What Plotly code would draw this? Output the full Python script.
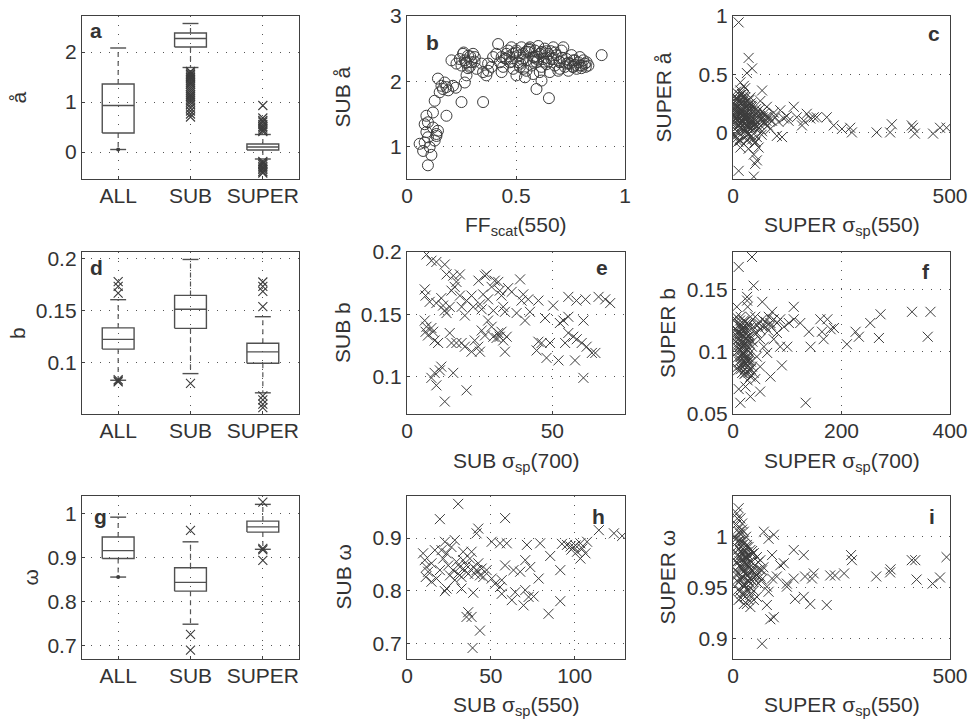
import plotly.graph_objects as go

FONT = "Liberation Sans, Arial, Helvetica, sans-serif"
INK = "#333333"
MARK = "#3c3c3c"
W, H = 971, 722

# ---------------- box-plot statistics ----------------
groups = ["ALL", "SUB", "SUPER"]

a_q1 = [0.38, 2.10, 0.04]
a_med = [0.93, 2.27, 0.10]
a_q3 = [1.36, 2.38, 0.16]
a_lo = [0.05, 1.69, -0.14]
a_hi = [2.08, 2.57, 0.35]
a_out = [[],
         [1.61, 1.58, 1.55, 1.52, 1.49, 1.46, 1.42, 1.38, 1.35, 1.31, 1.27, 1.23,
          1.19, 1.15, 1.12, 1.08, 1.04, 1.00, 0.95, 0.88, 0.82, 0.76, 0.70],
         [0.93, 0.68, 0.63, 0.60, 0.55, 0.51, 0.48, 0.44, 0.41,
          -0.19, -0.22, -0.25, -0.29, -0.32, -0.35, -0.39, -0.42]]
a_dot = [[0.05], [], []]

d_q1 = [0.113, 0.133, 0.0993]
d_med = [0.1224, 0.1513, 0.1103]
d_q3 = [0.1334, 0.1647, 0.1186]
d_lo = [0.083, 0.0894, 0.0709]
d_hi = [0.1606, 0.1993, 0.1442]
d_out = [[0.178, 0.1734, 0.167, 0.0835, 0.0825, 0.0815],
         [0.080],
         [0.1776, 0.1734, 0.1686, 0.154, 0.068, 0.064, 0.060, 0.0566]]
d_dot = [[], [], []]

g_q1 = [0.898, 0.824, 0.958]
g_med = [0.916, 0.844, 0.970]
g_q3 = [0.947, 0.877, 0.983]
g_lo = [0.856, 0.749, 0.919]
g_hi = [0.992, 0.936, 1.021]
g_out = [[], [0.962, 0.726, 0.690], [1.026, 0.921, 0.918, 0.894]]
g_dot = [[0.856], [], []]

# ---------------- scatter panels ----------------
b_ff = [0.096, 0.112, 0.074, 0.058, 0.081, 0.096, 0.127, 0.135, 0.142, 0.089, 0.081, 0.096,
        0.089, 0.119, 0.127, 0.181, 0.150, 0.158, 0.142, 0.173, 0.181, 0.211, 0.204, 0.224,
        0.250, 0.349, 0.265, 0.273, 0.227, 0.242, 0.257, 0.265, 0.280, 0.296, 0.303, 0.288,
        0.319, 0.342, 0.349, 0.364, 0.372, 0.387, 0.395, 0.410, 0.418, 0.426, 0.434, 0.441,
        0.456, 0.464, 0.472, 0.479, 0.487, 0.487, 0.502, 0.510, 0.518, 0.525, 0.533, 0.541,
        0.548, 0.556, 0.564, 0.571, 0.579, 0.587, 0.594, 0.594, 0.602, 0.609, 0.617, 0.617,
        0.625, 0.632, 0.640, 0.648, 0.651, 0.655, 0.663, 0.671, 0.678, 0.686, 0.694, 0.701,
        0.709, 0.717, 0.724, 0.732, 0.740, 0.747, 0.755, 0.763, 0.770, 0.778, 0.786, 0.793,
        0.801, 0.809, 0.816, 0.893, 0.311, 0.250, 0.273, 0.518, 0.548, 0.579, 0.671, 0.701,
        0.732, 0.763, 0.793, 0.824, 0.832, 0.609, 0.456, 0.502, 0.533, 0.434, 0.372, 0.104,
        0.119, 0.135, 0.165, 0.189, 0.545, 0.585, 0.615, 0.640, 0.560, 0.600, 0.630, 0.660,
        0.47, 0.50, 0.53, 0.56, 0.59, 0.62, 0.65, 0.68, 0.71, 0.74, 0.77, 0.80, 0.52, 0.58,
        0.64, 0.70, 0.76, 0.82, 0.27, 0.29, 0.31, 0.26, 0.28, 0.45, 0.48]
b_alpha = [0.71, 0.87, 0.93, 1.04, 1.06, 1.14, 1.09, 1.16, 1.24, 1.22, 1.34, 1.37,
           1.47, 1.52, 1.70, 1.47, 1.83, 1.93, 2.04, 1.98, 1.91, 1.93, 2.32, 1.90,
           1.68, 1.68, 1.98, 2.09, 2.27, 2.34, 2.42, 2.32, 2.39, 2.29, 2.42, 2.22,
           2.19, 2.27, 2.14, 2.09, 2.16, 2.22, 2.37, 2.42, 2.57, 2.29, 2.14, 2.22,
           2.34, 2.47, 2.29, 2.52, 2.42, 2.19, 2.09, 2.29, 2.40, 2.52, 2.19, 2.06,
           2.32, 2.45, 2.52, 2.24, 2.37, 2.47, 1.88, 2.29, 2.54, 2.42, 2.22, 2.01,
           2.34, 2.50, 2.26, 2.42, 1.74, 2.14, 2.34, 2.52, 2.24, 2.40, 2.16, 2.29,
           2.47, 2.52, 2.22, 2.34, 2.16, 2.27, 2.40, 2.22, 2.32, 2.19, 2.29, 2.37,
           2.24, 2.32, 2.27, 2.40, 2.37, 2.24, 2.29, 2.22, 2.16, 2.11, 2.34, 2.19,
           2.27, 2.32, 2.24, 2.29, 2.24, 2.14, 2.42, 2.47, 2.42, 2.37, 2.27, 0.99,
           1.29, 1.19, 1.88, 1.86, 2.45, 2.36, 2.44, 2.36, 2.50, 2.33, 2.30, 2.46,
           2.38, 2.44, 2.33, 2.48, 2.38, 2.45, 2.30, 2.44, 2.36, 2.28, 2.25, 2.20, 2.27, 2.30,
           2.46, 2.30, 2.22, 2.22, 2.28, 2.38, 2.30, 2.44, 2.20, 2.35, 2.30]

c_sp = [13, 13, 48, 51, 55, 48, 36, 17, 59, 36, 44, 32, 17, 25, 67, 63, 78, 94, 109, 124,
        140, 147, 159, 163, 170, 178, 186, 193, 216, 232, 251, 270, 274, 331, 362, 366, 412,
        419, 415, 461, 477, 492, 113, 101, 86,
        5, 9, 13, 17, 21, 25, 28, 32, 36, 40, 44, 48, 51, 55, 59, 63, 67, 71, 74, 5, 9, 17, 25,
        32, 44, 51, 5, 13, 17, 23, 28, 32, 38, 46, 54, 61, 69, 77, 82, 90, 97, 105, 117, 128,
        20, 27, 34, 42, 30, 38, 46, 24, 12, 56,
        3, 6, 8, 10, 12, 14, 16, 18, 20, 22, 24, 26, 28, 30, 33, 35, 38, 41, 44, 47, 50, 53,
        57, 60, 64, 68, 72, 76, 80, 85, 4, 7, 11, 15, 19, 23, 27, 31, 35, 39, 43, 47, 52, 58,
        62, 66,
        2, 4, 6, 8, 10, 12, 14, 16, 18, 20, 22, 24, 26, 28, 30, 32, 34, 36, 38, 40, 42, 44,
        3, 5, 7, 9, 11, 13, 15, 17, 19, 21, 23, 25, 27, 29, 31, 33, 35, 37, 39, 41, 43, 45,
        4, 8, 12, 16, 20, 24, 28, 32, 36, 40]
c_alpha = [0.945, -0.33, -0.38, -0.27, -0.24, -0.19, -0.14, -0.13, -0.13, 0.64, 0.55, 0.51,
           0.43, 0.40, 0.36, 0.27, 0.22, 0.17, 0.19, 0.14, 0.22, 0.13, 0.06, 0.10, 0.16, 0.12,
           0.13, 0.13, 0.13, 0.06, 0.03, 0.04, 0.00, 0.00, 0.00, 0.07, 0.06, -0.01, 0.04,
           -0.01, 0.04, 0.04, -0.04, -0.03, 0.03,
           0.27, 0.19, 0.10, 0.04, 0.33, 0.25, 0.16, 0.07, -0.01, 0.30, 0.22, 0.13, 0.04,
           -0.04, 0.19, 0.10, 0.01, 0.16, 0.07, -0.04, 0.01, -0.07, -0.10, -0.07, -0.06,
           -0.09, 0.13, 0.27, 0.36, 0.30, 0.38, 0.27, 0.19, 0.10, 0.16, 0.07, 0.13, 0.10,
           0.14, 0.10, 0.13, 0.09, 0.12, 0.10, 0.20, 0.12, 0.05, 0.23, 0.02, 0.28, 0.08,
           0.31, 0.22, 0.18,
           0.20, 0.12, 0.30, 0.05, 0.22, 0.15, 0.32, 0.08, 0.18, 0.26, 0.02, 0.12, 0.21, 0.06,
           0.15, 0.24, 0.09, 0.03, 0.17, 0.05, 0.11, 0.20, 0.14, 0.04, 0.12, 0.18, 0.09, 0.13,
           0.06, 0.11, -0.02, 0.35, 0.16, -0.06, 0.28, 0.09, 0.13, -0.03, 0.21, 0.12, 0.05,
           0.08, -0.08, 0.03, 0.14, -0.02,
           0.15, 0.05, 0.22, 0.10, 0.28, 0.00, 0.18, 0.12, 0.25, 0.03, 0.14, 0.20, 0.07, 0.30,
           0.11, 0.17, -0.02, 0.23, 0.09, 0.14, 0.04, 0.19, 0.24, 0.09, 0.17, -0.05, 0.13,
           0.26, 0.06, 0.20, 0.11, 0.33, 0.02, 0.16, 0.08, 0.22, 0.13, -0.06, 0.18, 0.07,
           0.12, 0.25, -0.03, 0.10, 0.31, 0.19, -0.08, 0.08, 0.16, 0.27, 0.01, 0.12, 0.05,
           0.18]

e_sp = [6.7, 8.4, 10.1, 13.0, 13.6, 15.9, 18.2, 6.1, 6.4, 7.8, 10.1, 11.8, 12.4, 13.0, 13.6,
        14.7, 15.3, 16.4, 17.0, 18.2, 18.8, 19.9, 20.5, 22.2, 22.8, 24.6, 25.1, 25.7, 26.2,
        26.8, 27.4, 27.9, 29.1, 29.7, 30.2, 31.4, 31.9, 32.5, 33.1, 33.7, 34.8, 36.0, 37.7,
        38.9, 39.4, 40.0, 40.6, 41.7, 42.3, 45.2, 47.5, 50.3, 55.5, 58.3, 61.4, 65.9, 68.2,
        69.9, 45.2, 46.3, 49.2, 48.0, 52.1, 52.6, 53.8, 55.5, 54.4, 55.5, 57.2, 57.8, 58.4,
        60.1, 60.7, 60.7, 61.8, 63.6, 64.8, 44.6,
        6.1, 6.7, 6.4, 7.2, 8.4, 9.0, 9.5, 10.7, 8.4, 9.5, 10.1, 11.3, 11.8, 13.0, 14.7,
        15.3, 15.9, 17.0, 18.8, 19.9, 20.5, 22.2, 23.3, 24.5, 25.1, 25.7, 26.8, 27.9, 29.1,
        29.7, 30.8, 31.4, 31.9, 32.5, 33.1, 33.7, 34.3]
e_b = [0.198, 0.193, 0.192, 0.190, 0.182, 0.181, 0.182, 0.170, 0.165, 0.160, 0.159, 0.163,
       0.157, 0.153, 0.151, 0.156, 0.169, 0.172, 0.176, 0.165, 0.156, 0.149, 0.161, 0.165,
       0.156, 0.177, 0.158, 0.154, 0.166, 0.181, 0.182, 0.162, 0.172, 0.153, 0.177, 0.176,
       0.169, 0.165, 0.156, 0.152, 0.171, 0.168, 0.151, 0.178, 0.161, 0.166, 0.145, 0.162,
       0.152, 0.161, 0.147, 0.157, 0.164, 0.161, 0.162, 0.164, 0.162, 0.159, 0.128, 0.127,
       0.127, 0.115, 0.113, 0.143, 0.145, 0.148, 0.127, 0.135, 0.132, 0.113, 0.130, 0.127,
       0.145, 0.099, 0.124, 0.119, 0.119, 0.121,
       0.145, 0.140, 0.136, 0.133, 0.139, 0.136, 0.129, 0.127, 0.099, 0.103, 0.093, 0.105,
       0.108, 0.080, 0.135, 0.127, 0.103, 0.127, 0.127, 0.124, 0.089, 0.120, 0.129, 0.124,
       0.120, 0.137, 0.133, 0.145, 0.140, 0.132, 0.131, 0.135, 0.132, 0.136, 0.129, 0.120,
       0.132]

f_sp = [10.5, 35, 38, 26, 26, 27, 54, 112, 72, 13.5, 32, 50, 134, 69, 90, 100, 112, 124, 140,
        143, 161, 164, 167, 174, 180, 186, 210, 226, 232, 253, 269, 272, 330, 364, 359,
        7, 10, 14, 17, 20, 23, 26, 29, 32, 14, 20, 26, 32, 38, 44, 50, 57, 63, 41, 47, 54,
        60, 66, 69, 75, 81, 87, 94, 103, 44, 35, 41, 23, 10.5, 17, 7, 4, 14, 7, 75, 81, 87,
        50, 38, 29, 23, 35, 12, 18, 24, 30, 16, 22, 28, 20,
        5, 6, 8, 9, 11, 12, 14, 15, 17, 18, 20, 21, 23, 24, 26, 27, 29, 30, 32, 33, 36, 40,
        45, 50, 55, 60, 65, 70, 6, 9, 12, 15, 18, 21, 24, 27, 30, 33,
        6, 8, 10, 12, 14, 16, 18, 20, 22, 24, 26, 28, 30, 7, 9, 11, 13, 15, 17, 19, 21, 23,
        25, 27, 29, 31]
f_b = [0.168, 0.176, 0.153, 0.144, 0.141, 0.136, 0.140, 0.136, 0.132, 0.059, 0.064, 0.068,
       0.059, 0.080, 0.089, 0.104, 0.126, 0.123, 0.116, 0.104, 0.126, 0.116, 0.110, 0.126,
       0.118, 0.119, 0.106, 0.116, 0.112, 0.123, 0.111, 0.130, 0.132, 0.132, 0.112,
       0.115, 0.110, 0.120, 0.104, 0.099, 0.094, 0.088, 0.083, 0.080, 0.096, 0.112, 0.123,
       0.128, 0.120, 0.115, 0.110, 0.104, 0.099, 0.128, 0.123, 0.126, 0.120, 0.128, 0.123,
       0.126, 0.123, 0.126, 0.120, 0.123, 0.096, 0.088, 0.078, 0.072, 0.070, 0.083, 0.104,
       0.126, 0.128, 0.136, 0.110, 0.115, 0.104, 0.088, 0.083, 0.110, 0.118, 0.104, 0.108,
       0.113, 0.090, 0.085, 0.118, 0.100, 0.092, 0.106,
       0.108, 0.118, 0.100, 0.112, 0.092, 0.122, 0.105, 0.086, 0.114, 0.097, 0.109, 0.082,
       0.118, 0.091, 0.102, 0.077, 0.112, 0.095, 0.120, 0.086, 0.108, 0.115, 0.121, 0.118,
       0.120, 0.124, 0.117, 0.121, 0.128, 0.085, 0.114, 0.101, 0.090, 0.124, 0.106, 0.096,
       0.113, 0.092,
       0.113, 0.095, 0.121, 0.104, 0.089, 0.117, 0.099, 0.125, 0.086, 0.111, 0.119, 0.093,
       0.107, 0.087, 0.116, 0.101, 0.125, 0.093, 0.108, 0.120, 0.097, 0.083, 0.115, 0.104,
       0.122, 0.099]

h_sp = [30.5, 19.6, 58.5, 42.5, 41.5, 28.5, 22.6, 50.5, 55.5, 59.5, 71.5, 79.4, 92.4, 95.4,
        99.4, 103.4, 107.4, 101.4, 103.4, 106.4, 114.4, 123.4, 128.3, 85.4, 91.4, 91.4, 84.4,
        69.5, 70.5, 62.5, 64.5, 72.5, 75.5, 78.5, 73.5, 70.5, 67.5, 63.5, 58.5, 56.5, 55.5,
        56.5, 52.5, 50.5, 47.5, 43.5, 39.1, 35.5, 36.5, 38.5, 39.5, 22.6, 23.6, 32.5,
        9.6, 10.6, 11.6, 11.2, 12.6, 14.6, 16.6, 17.6, 19.6, 21.6, 23.6, 24.6, 25.6, 27.5,
        28.5, 29.5, 30.5, 31.5, 32.5, 33.5, 34.5, 35.5, 36.5, 37.5, 38.5, 39.5, 40.5, 41.5,
        42.5, 43.5, 44.5, 45.5, 26.5, 20.6, 33.5, 14.6, 97.5, 100.5, 104.5, 98.0]
h_omega = [0.965, 0.936, 0.938, 0.918, 0.909, 0.896, 0.893, 0.893, 0.890, 0.890, 0.887,
           0.890, 0.889, 0.887, 0.883, 0.890, 0.893, 0.874, 0.861, 0.871, 0.915, 0.909,
           0.904, 0.866, 0.839, 0.780, 0.756, 0.772, 0.801, 0.782, 0.797, 0.788, 0.789,
           0.823, 0.845, 0.858, 0.836, 0.839, 0.848, 0.820, 0.807, 0.794, 0.813, 0.823,
           0.839, 0.724, 0.691, 0.750, 0.759, 0.750, 0.796, 0.799, 0.804, 0.804,
           0.871, 0.858, 0.845, 0.826, 0.836, 0.852, 0.877, 0.823, 0.839, 0.861, 0.871,
           0.848, 0.829, 0.839, 0.820, 0.855, 0.832, 0.845, 0.826, 0.858, 0.839, 0.848,
           0.832, 0.861, 0.874, 0.845, 0.832, 0.839, 0.852, 0.829, 0.842, 0.826, 0.883,
           0.877, 0.874, 0.817, 0.884, 0.886, 0.880, 0.878]

i_sp = [13, 9, 17, 21, 13, 25, 67, 86, 94, 78, 71, 82, 94, 90, 140, 163, 109, 117, 124, 140,
        166, 186, 182, 224, 235, 256, 272, 274, 330, 362, 363, 412, 420, 423, 460, 477, 492,
        143, 163, 178, 216, 124, 78, 82, 90, 101,
        5, 9, 13, 17, 21, 25, 28, 32, 36, 40, 48, 55, 5, 9, 13, 17, 25, 32, 40, 48, 55, 63,
        28, 36, 44, 51, 59, 67, 32, 25, 40, 48, 55, 63, 21, 30, 9, 17, 25, 36, 21,
        6, 8, 10, 12, 14, 16, 18, 20, 22, 24, 26, 28, 30, 32, 34, 36, 38, 40, 42, 44, 46, 50,
        54, 58, 62, 66, 70, 8, 12, 16, 20, 24, 28, 32, 36, 40, 44, 48,
        7, 9, 11, 13, 15, 17, 19, 21, 23, 25, 27, 29, 31, 33, 35, 37, 39, 41, 43, 45, 10, 14,
        18, 22, 26, 30]
i_omega = [1.028, 1.023, 1.018, 1.013, 1.008, 1.005, 0.895, 0.919, 0.921, 0.933, 1.005,
           0.998, 1.002, 0.982, 0.987, 0.982, 0.972, 0.974, 0.954, 0.959, 0.961, 0.964,
           0.959, 0.962, 0.962, 0.964, 0.982, 0.977, 0.961, 0.965, 0.968, 0.977, 0.977,
           0.958, 0.954, 0.960, 0.980, 0.939, 0.941, 0.934, 0.933, 0.951, 0.951, 0.946,
           0.959, 0.961,
           1.000, 0.990, 0.980, 0.970, 0.961, 0.951, 0.941, 0.934, 0.938, 0.931, 0.938,
           0.941, 0.967, 0.957, 0.938, 0.997, 0.993, 0.990, 0.987, 0.984, 0.980, 0.977,
           0.980, 0.974, 0.967, 0.961, 0.954, 0.967, 0.964, 0.974, 0.954, 0.947, 0.967,
           0.961, 0.984, 1.000, 0.975, 0.947, 0.934, 0.947, 1.007,
           0.985, 0.975, 0.995, 0.965, 0.988, 0.972, 0.958, 0.992, 0.978, 0.966, 0.985,
           0.952, 0.973, 0.980, 0.962, 0.990, 0.970, 0.976, 0.958, 0.983, 0.966, 0.972,
           0.962, 0.975, 0.968, 0.958, 0.970, 1.012, 0.948, 1.003, 0.944, 0.996, 0.952,
           0.992, 0.957, 0.943, 0.986, 0.960,
           0.998, 0.962, 0.982, 0.955, 0.976, 0.995, 0.960, 0.970, 0.988, 0.953, 0.979,
           0.963, 0.985, 0.957, 0.972, 0.981, 0.950, 0.966, 0.975, 0.956, 1.018, 1.005,
           0.940, 0.982, 0.945, 0.968]

# ---------------- layout geometry (pixels) ----------------
COLS = [(82, 299), (407, 625), (733, 950)]
ROWS = [(16, 179), (252, 414), (496, 659)]

fig = go.Figure()
layout = {}
annotations = []


def px_x(x):
    return x / W


def px_y(y):
    return 1 - y / H


def axis_names(k):
    return ("x" if k == 0 else f"x{k + 1}", "y" if k == 0 else f"y{k + 1}",
            "xaxis" if k == 0 else f"xaxis{k + 1}", "yaxis" if k == 0 else f"yaxis{k + 1}")


def set_axes(k, xr, yr, xt, xtt, yt, ytt):
    r, c = divmod(k, 3)
    xa, ya, xk, yk = axis_names(k)
    common = dict(showline=True, mirror=True, linecolor="#404040", linewidth=1.4,
                  showgrid=True, gridcolor="#555555", gridwidth=1, griddash="1px,8px",
                  zeroline=False, ticks="inside", ticklen=3, tickcolor="#404040",
                  automargin=False,
                  tickfont=dict(family=FONT, size=21, color=INK), fixedrange=True)
    layout[xk] = dict(common, domain=[px_x(COLS[c][0]), px_x(COLS[c][1])], range=xr,
                      tickvals=xt, ticktext=xtt, anchor=ya, ticklabelstandoff=-2)
    layout[yk] = dict(common, domain=[px_y(ROWS[r][1]), px_y(ROWS[r][0])], range=yr,
                      tickvals=yt, ticktext=ytt, anchor=xa)


def add_box(k, q1, med, q3, lo, hi, out, dots):
    xa, ya, _, _ = axis_names(k)
    w, cw = 0.22, 0.11
    bx, by, wx, wy = [], [], [], []
    for i in range(3):
        p = i + 1
        bx += [p - w, p + w, p + w, p - w, p - w, None, p - w, p + w, None,
               p - cw, p + cw, None, p - cw, p + cw, None]
        by += [q1[i], q1[i], q3[i], q3[i], q1[i], None, med[i], med[i], None,
               hi[i], hi[i], None, lo[i], lo[i], None]
        wx += [p, p, None, p, p, None]
        wy += [q3[i], hi[i], None, q1[i], lo[i], None]
    fig.add_trace(go.Scatter(x=wx, y=wy, xaxis=xa, yaxis=ya, mode="lines",
                             line=dict(color="#555555", width=1.2, dash="5px,4px"),
                             hoverinfo="skip"))
    fig.add_trace(go.Scatter(x=bx, y=by, xaxis=xa, yaxis=ya, mode="lines",
                             line=dict(color="#505050", width=1.4), hoverinfo="skip"))
    ox, oy, dx, dy = [], [], [], []
    for i in range(3):
        ox += [i + 1] * len(out[i])
        oy += out[i]
        dx += [i + 1] * len(dots[i])
        dy += dots[i]
    fig.add_trace(go.Scatter(x=ox, y=oy, xaxis=xa, yaxis=ya, mode="markers",
                             marker=dict(symbol="x-thin-open", size=9, color=MARK,
                                         line=dict(color=MARK, width=1.1))))
    if dx:
        fig.add_trace(go.Scatter(x=dx, y=dy, xaxis=xa, yaxis=ya, mode="markers",
                                 marker=dict(symbol="circle", size=4, color=MARK)))


def add_scatter(k, x, y, symbol, size):
    xa, ya, _, _ = axis_names(k)
    fig.add_trace(go.Scatter(x=x, y=y, xaxis=xa, yaxis=ya, mode="markers",
                             marker=dict(symbol=symbol, size=size, color=MARK,
                                         line=dict(color=MARK, width=1.0))))


cat_ticks = [1, 2, 3]

# row 1
set_axes(0, [0.5, 3.5], [-0.54, 2.72], cat_ticks, groups, [0, 1, 2], ["0", "1", "2"])
add_box(0, a_q1, a_med, a_q3, a_lo, a_hi, a_out, a_dot)
set_axes(1, [0, 1], [0.5, 3], [0, 0.5, 1], ["0", "0.5", "1"], [1, 2, 3], ["1", "2", "3"])
add_scatter(1, b_ff, b_alpha, "circle-open", 11)
set_axes(2, [0, 500], [-0.4, 1], [0, 500], ["0", "500"], [0, 0.5, 1], ["0", "0.5", "1"])
add_scatter(2, c_sp, c_alpha, "x-thin-open", 10)

# row 2
set_axes(3, [0.5, 3.5], [0.0505, 0.2065], cat_ticks, groups, [0.1, 0.15, 0.2],
         ["0.1", "0.15", "0.2"])
add_box(3, d_q1, d_med, d_q3, d_lo, d_hi, d_out, d_dot)
set_axes(4, [0, 75], [0.07, 0.2], [0, 50], ["0", "50"], [0.1, 0.15, 0.2],
         ["0.1", "0.15", "0.2"])
add_scatter(4, e_sp, e_b, "x-thin-open", 10)
set_axes(5, [0, 400], [0.05, 0.18], [0, 200, 400], ["0", "200", "400"], [0.05, 0.1, 0.15],
         ["0.05", "0.1", "0.15"])
add_scatter(5, f_sp, f_b, "x-thin-open", 10)

# row 3
set_axes(6, [0.5, 3.5], [0.67, 1.04], cat_ticks, groups, [0.7, 0.8, 0.9, 1],
         ["0.7", "0.8", "0.9", "1"])
add_box(6, g_q1, g_med, g_q3, g_lo, g_hi, g_out, g_dot)
set_axes(7, [0, 130], [0.67, 0.98], [0, 50, 100], ["0", "50", "100"], [0.7, 0.8, 0.9],
         ["0.7", "0.8", "0.9"])
add_scatter(7, h_sp, h_omega, "x-thin-open", 10)
set_axes(8, [0, 500], [0.88, 1.04], [0, 500], ["0", "500"], [0.9, 0.95, 1],
         ["0.9", "0.95", "1"])
add_scatter(8, i_sp, i_omega, "x-thin-open", 10)


def note(text, x, y, size=21, bold=False, angle=0):
    annotations.append(dict(text=f"<b>{text}</b>" if bold else text, xref="paper",
                            yref="paper", x=px_x(x), y=px_y(y), xanchor="center",
                            yanchor="middle", showarrow=False, textangle=angle,
                            font=dict(family=FONT, size=size, color=INK)))


# axis titles
y_titles = [("å", 18), ("SUB å", 342), ("SUPER å", 663),
            ("b", 18), ("SUB b", 343), ("SUPER b", 668),
            ("ω", 30), ("SUB ω", 343), ("SUPER ω", 667)]
for k, (t, xc) in enumerate(y_titles):
    r = k // 3
    note(t, xc, (ROWS[r][0] + ROWS[r][1]) / 2, angle=-90)

x_titles = [(1, "FF<sub>scat</sub>(550)", 226), (2, "SUPER σ<sub>sp</sub>(550)", 226),
            (4, "SUB σ<sub>sp</sub>(700)", 462), (5, "SUPER σ<sub>sp</sub>(700)", 462),
            (7, "SUB σ<sub>sp</sub>(550)", 706), (8, "SUPER σ<sub>sp</sub>(550)", 706)]
for k, t, yc in x_titles:
    c = k % 3
    note(t, (COLS[c][0] + COLS[c][1]) / 2, yc)

# panel letters
letters = [("a", 96, 30), ("b", 432, 42), ("c", 934, 34), ("d", 96, 267), ("e", 602, 267),
           ("f", 926, 271), ("g", 100, 516), ("h", 598, 516), ("i", 932, 516)]
for t, x, y in letters:
    note(t, x, y, size=21, bold=True)

fig.update_layout(width=W, height=H, margin=dict(l=0, r=0, t=0, b=0),
                  paper_bgcolor="white", plot_bgcolor="white", showlegend=False,
                  annotations=annotations, **layout)

fig.write_html("out.html")
